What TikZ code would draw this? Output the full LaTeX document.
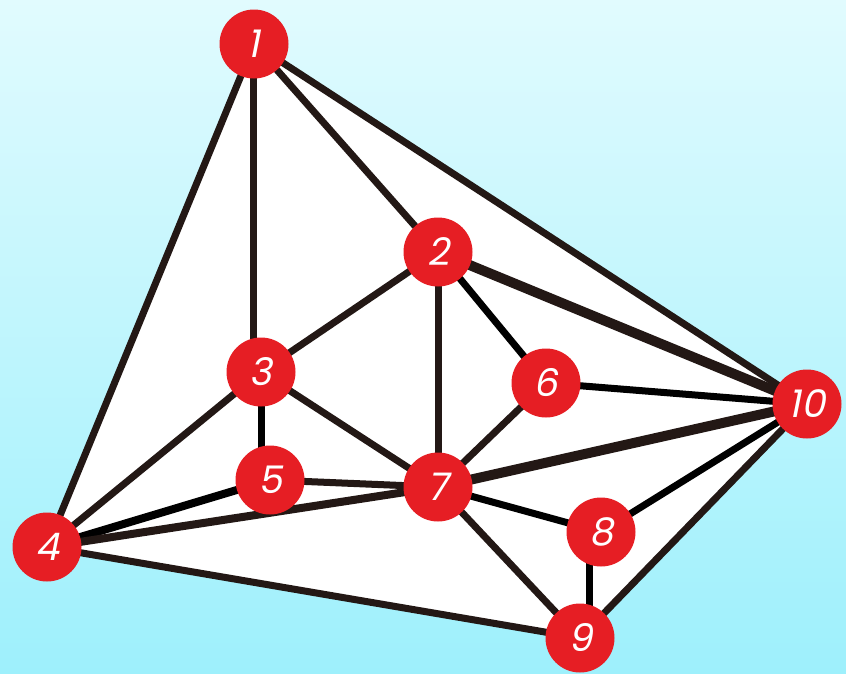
\documentclass[tikz,border=0pt]{standalone}
\usepackage{fontspec}
\setmainfont{Poppins}[FakeSlant=0.2]
\definecolor{bgtop}{RGB}{225,251,254}
\definecolor{bgbot}{RGB}{158,240,252}
\definecolor{nodered}{RGB}{230,30,36}
\definecolor{edgecol}{RGB}{35,24,21}
\begin{document}
\begin{tikzpicture}[x=1pt,y=-1pt,
  vert/.style={circle,fill=nodered,minimum size=69pt,inner sep=0pt,text=white,font=\fontsize{38}{38}\selectfont},
  edge/.style={draw=edgecol,line width=7pt},
  blackedge/.style={draw=black,line width=7pt},
  thickedge/.style={draw=edgecol,line width=10pt}]
\shade[top color=bgtop,bottom color=bgbot] (0,0) rectangle (846,673);
\useasboundingbox (0,0) rectangle (846,673);
\coordinate (p1) at (254,44);
\coordinate (p2) at (438,252);
\coordinate (p3) at (261,372);
\coordinate (p4) at (47,547);
\coordinate (p5) at (270,480);
\coordinate (p6) at (546,383);
\coordinate (p7) at (438,487);
\coordinate (p8) at (601,532);
\coordinate (p9) at (580,638);
\coordinate (p10) at (807,404);
% offset attachment points for the vertical connectors
\coordinate (a1) at (253,44);
\coordinate (a3) at (253,372);
\coordinate (b3) at (261,372);
\coordinate (b5) at (261,475);
\coordinate (c8) at (589,532);
\coordinate (c9) at (589,638);
\fill[white] (p1) -- (p10) -- (p9) -- (p4) -- cycle;
\draw[edge] (p1) -- (p4);
\draw[edge] (a1) -- (a3);
\draw[edge] (p1) -- (p2);
\draw[edge] (p1) -- (p10);
\draw[edge] (p2) -- (p3);
\draw[edge] (p2) -- (p7);
\draw[blackedge] (p2) -- (p6);
\draw[thickedge] (p2) -- (p10);
\draw[blackedge] (b3) -- (b5);
\draw[edge] (p3) -- (p4);
\draw[edge] (p3) -- (p7);
\draw[blackedge,line width=8pt] (p5) -- (p4);
\draw[edge] (p5) -- (p7);
\draw[edge,line width=8pt] (p4) -- (p7);
\draw[edge] (p4) -- (p9);
\draw[blackedge] (p6) -- (p10);
\draw[edge] (p6) -- (p7);
\draw[thickedge] (p7) -- (p10);
\draw[blackedge] (p7) -- (p8);
\draw[edge] (p7) -- (p9);
\draw[blackedge] (c8) -- (c9);
\draw[blackedge] (p8) -- (p10);
\draw[edge] (p9) -- (p10);
\node[vert] (n1) at (p1) {1};
\node[vert] (n2) at (p2) {2};
\node[vert] (n3) at (p3) {3};
\node[vert] (n4) at (p4) {4};
\node[vert] (n5) at (p5) {5};
\node[vert] (n6) at (p6) {6};
\node[vert] (n7) at (p7) {7};
\node[vert] (n8) at (p8) {8};
\node[vert] (n9) at (p9) {9};
\node[vert] (n10) at (p10) {10};
\end{tikzpicture}
\end{document}
